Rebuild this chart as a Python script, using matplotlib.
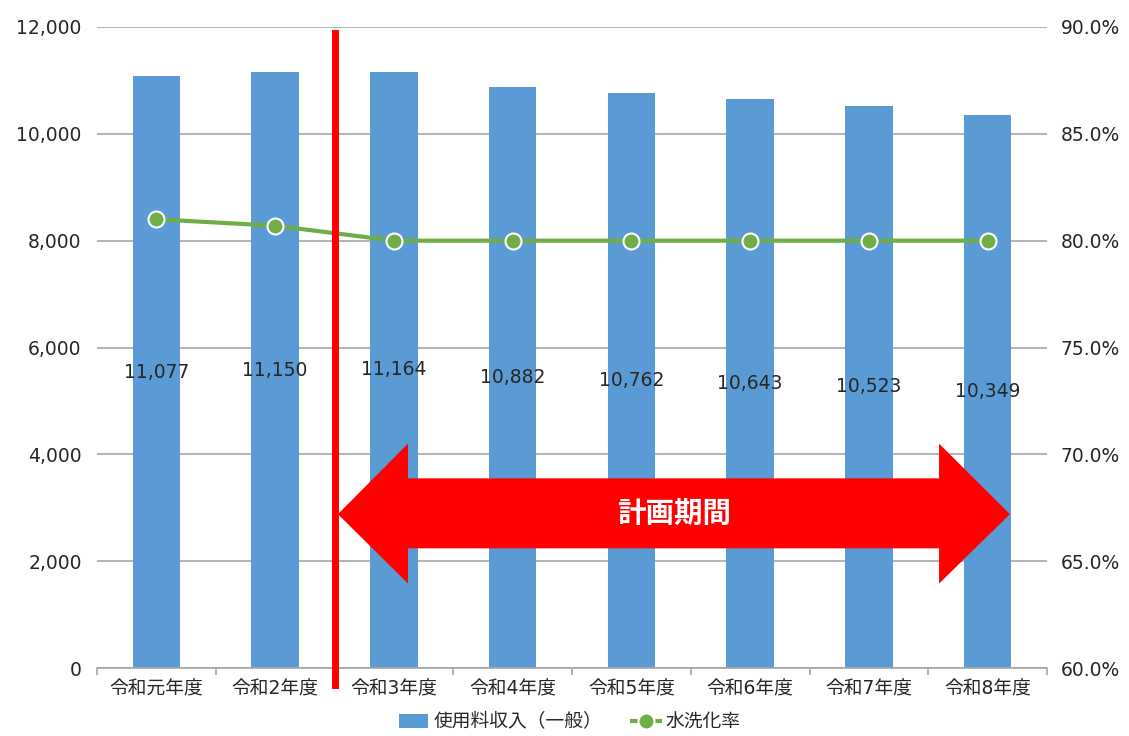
import matplotlib
matplotlib.use("Agg")
import matplotlib.pyplot as plt
from matplotlib.patches import Polygon
from matplotlib.ticker import FuncFormatter, MultipleLocator
import numpy as np

# DejaVu for the (wide) digits, Noto CJK for the Japanese glyphs
plt.rcParams['font.family'] = ['DejaVu Sans', 'Noto Sans CJK JP']

# data
years = ['令和元年度', '令和2年度', '令和3年度', '令和4年度',
         '令和5年度', '令和6年度', '令和7年度', '令和8年度']
revenue = [11077, 11150, 11164, 10882, 10762, 10643, 10523, 10349]
sewer_rate = [81.0, 80.7, 80.0, 80.0, 80.0, 80.0, 80.0, 80.0]

bar_color = '#5B9BD5'
line_color = '#70AD47'
grid_color = '#A6A6A6'
text_color = '#262626'

fig = plt.figure(figsize=(11.29, 7.36), dpi=100)
W, H = 1129, 736
ax = fig.add_axes([97 / W, (H - 668) / H, (1047 - 97) / W, (668 - 27) / H])
ax2 = ax.twinx()

x = np.arange(len(years))
ax.bar(x, revenue, width=0.4, color=bar_color, zorder=2, label='使用料収入（一般）')

# value labels in the middle of the bars
for xi, v in zip(x, revenue):
    ax.text(xi, v / 2, f'{v:,}', ha='center', va='center', fontsize=13.5,
            color=text_color, zorder=4)

ax.set_xlim(-0.5, len(years) - 0.5)
ax.set_ylim(0, 12000)
ax.yaxis.set_major_locator(MultipleLocator(2000))
ax.yaxis.set_major_formatter(FuncFormatter(lambda v, p: f'{int(v):,}'))
ax.grid(axis='y', color=grid_color, linewidth=1.2, zorder=0)
ax.set_axisbelow(True)

ax.set_xticks(x)
ax.set_xticklabels(years, fontsize=13.5, color=text_color)
ax.set_xticks(np.arange(-0.5, len(years)), minor=True)
ax.tick_params(axis='x', which='major', length=0, pad=8)
ax.tick_params(axis='x', which='minor', length=5, color=grid_color, width=1.2)
ax.tick_params(axis='y', length=0, labelsize=13.5, labelcolor=text_color, pad=11)

for s in ['top', 'left', 'right']:
    ax.spines[s].set_visible(False)
    ax2.spines[s].set_visible(False)
ax2.spines['bottom'].set_visible(False)
ax.spines['bottom'].set_color(grid_color)
ax.spines['bottom'].set_linewidth(1.2)

# rate line on right axis
ax2.plot(x, sewer_rate, color=line_color, linewidth=3, marker='o', markersize=11.5,
         markerfacecolor=line_color, markeredgecolor='white', markeredgewidth=1.5,
         zorder=3, label='水洗化率')
ax2.set_ylim(60, 90)
ax2.yaxis.set_major_locator(MultipleLocator(5))
ax2.yaxis.set_major_formatter(FuncFormatter(lambda v, p: f'{v:.1f}%'))
ax2.tick_params(axis='y', length=0, labelsize=13.5, labelcolor=text_color, pad=10)

# plan period marker
ax2.plot([1.5, 1.5], [89.72, 59.2], color='#FF0000', linewidth=5, clip_on=False, zorder=5)

arrow_pts = [(1.529, 2.88), (2.119, 4.20), (2.119, 3.55), (6.591, 3.55), (6.591, 4.20),
             (7.188, 2.88), (6.591, 1.58), (6.591, 2.24), (2.119, 2.24), (2.119, 1.58)]
arrow = Polygon([(px, py * 1000) for px, py in arrow_pts], closed=True,
                facecolor='#FF0000', edgecolor='none', zorder=6)
ax.add_patch(arrow)
ax.text(4.36, 2880, '計画期間', ha='center', va='center', fontsize=20.5,
        color='white', fontweight='bold', family='Noto Sans CJK JP', zorder=7)

h1, l1 = ax.get_legend_handles_labels()
h2, l2 = ax2.get_legend_handles_labels()
fig.legend(h1 + h2, l1 + l2, loc='center', bbox_to_anchor=(570 / W, 1 - 722 / H),
           ncol=2, frameon=False, fontsize=13.5, handlelength=1.5, handletextpad=0.3,
           columnspacing=1.6, labelcolor=text_color)

fig.savefig('out.png', dpi=100)
